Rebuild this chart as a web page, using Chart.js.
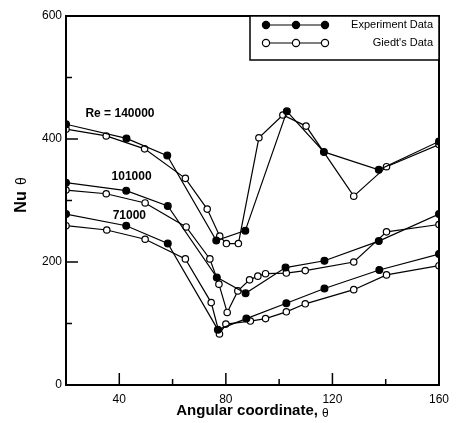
<!DOCTYPE html>
<html>
<head>
<meta charset="utf-8">
<script src="https://cdn.jsdelivr.net/npm/chart.js@4.4.1/dist/chart.umd.min.js"></script>
<style>
  html, body { margin: 0; padding: 0; background: #fff; }
  #wrap { width: 459px; height: 423px; }
</style>
</head>
<body>
<div id="wrap"><canvas id="nu"></canvas></div>
<script>
// Re = 140000
var exp140X = [20, 42.7, 58, 76.4, 87.3, 102.9, 116.8, 137.4, 160]
var exp140Y = [424, 401, 373, 235, 251, 445, 379, 350, 396]
var giedt140X = [20, 35.1, 49.5, 64.8, 73, 77.7, 80.2, 84.7, 92.4, 101.4, 110.1, 128, 140.3, 160]
var giedt140Y = [416, 405, 384, 336, 286, 242, 230, 230, 402, 439, 421, 307, 355, 391]
// Re = 101000
var exp101X = [20, 42.6, 58.2, 76.6, 87.4, 102.4, 117, 137.4, 160]
var exp101Y = [329, 316, 291, 175, 149, 191, 202, 234, 278]
var giedt101X = [20, 35.1, 49.7, 65.1, 74, 77.4, 80.5, 84.5, 88.9, 92, 94.9, 102.7, 109.8, 128, 140.3, 160]
var giedt101Y = [317, 311, 296, 257, 205, 164, 118, 153, 171, 177, 181, 182, 186, 200, 249, 261]
// Re = 71000
var exp71X = [20, 42.6, 58.2, 77, 87.7, 102.7, 117, 137.6, 160]
var exp71Y = [278, 259, 230, 90, 108, 133, 157, 187, 213]
var giedt71X = [20, 35.3, 49.7, 64.8, 74.5, 77.6, 80, 89.2, 94.9, 102.7, 109.8, 128, 140.3, 160]
var giedt71Y = [259, 252, 237, 205, 134, 83, 99, 104, 108, 119, 132, 155, 179, 194]

var xTicks = [40, 60, 80, 100, 120, 140, 160]
var xLabels = [40, 80, 120, 160]
var yTicks = [0, 100, 200, 300, 400, 500, 600]
var yLabels = [0, 200, 400, 600]
var reLabels = [
  {text: "Re = 140000", x: 27.3, y: 441},
  {text: "101000", x: 37.1, y: 339},
  {text: "71000", x: 37.5, y: 276}
]

var FONT = "'Liberation Sans', Arial, sans-serif"

function pts(xs, ys){
  let out = []
  for(let i = 0; i < xs.length; i++){
    out.push({x: xs[i], y: ys[i]})
  }
  return out
}

function serie(xs, ys, filled){
  return {
    data: pts(xs, ys),
    showLine: true,
    borderColor: '#000',
    borderWidth: 1.2,
    pointRadius: filled ? 3.4 : 3.2,
    pointBorderWidth: 1.2,
    pointBorderColor: '#000',
    pointBackgroundColor: filled ? '#000' : '#fff',
    tension: 0
  }
}

const decor = {
  id: 'decor',
  afterDraw(chart){
    const ctx = chart.ctx
    const a = chart.chartArea
    const xs = chart.scales.x
    const ys = chart.scales.y
    ctx.save()
    ctx.strokeStyle = '#000'
    ctx.lineWidth = 1.5
    // inward tick marks
    for(let v of xTicks){
      const px = xs.getPixelForValue(v)
      const len = xLabels.includes(v) ? 12 : 6
      ctx.beginPath(); ctx.moveTo(px, a.bottom); ctx.lineTo(px, a.bottom - len); ctx.stroke()
    }
    for(let v of yTicks){
      const py = ys.getPixelForValue(v)
      const len = yLabels.includes(v) ? 12 : 6
      ctx.beginPath(); ctx.moveTo(a.left, py); ctx.lineTo(a.left + len, py); ctx.stroke()
    }
    // frame
    ctx.lineWidth = 2
    ctx.strokeRect(a.left, a.top, a.right - a.left, a.bottom - a.top)

    // Re labels
    ctx.fillStyle = '#000'
    ctx.font = "bold 12px " + FONT
    ctx.textBaseline = 'middle'
    ctx.textAlign = 'left'
    for(let r of reLabels){
      ctx.fillText(r.text, xs.getPixelForValue(r.x), ys.getPixelForValue(r.y))
    }

    // legend
    const lx = 250, ly = a.top
    ctx.lineWidth = 1.5
    ctx.fillStyle = '#fff'
    ctx.fillRect(lx, ly, a.right - lx, 44)
    ctx.strokeRect(lx, ly, a.right - lx, 44)
    const rows = [{y: ly + 9, filled: true, text: "Experiment Data"},
                  {y: ly + 27, filled: false, text: "Giedt's Data"}]
    const mx = [266, 296, 325]
    for(let r of rows){
      ctx.lineWidth = 1.2
      ctx.beginPath(); ctx.moveTo(mx[0], r.y); ctx.lineTo(mx[2], r.y); ctx.stroke()
      for(let m of mx){
        ctx.beginPath(); ctx.arc(m, r.y, 3.6, 0, Math.PI * 2)
        ctx.fillStyle = r.filled ? '#000' : '#fff'
        ctx.fill(); ctx.stroke()
      }
      ctx.fillStyle = '#000'
      ctx.font = "11px " + FONT
      ctx.textAlign = 'right'
      ctx.fillText(r.text, 433, r.y)
    }

    // axis titles
    const tx = (a.left + a.right) / 2
    const t1 = "Angular coordinate, "
    ctx.font = "bold 15px " + FONT
    const w1 = ctx.measureText(t1).width
    ctx.font = "12px " + FONT
    const w2 = ctx.measureText("θ").width
    let sx = tx - (w1 + w2) / 2
    ctx.textAlign = 'left'
    ctx.font = "bold 15px " + FONT
    ctx.fillText(t1, sx, 411)
    ctx.font = "12px " + FONT
    ctx.fillText("θ", sx + w1, 414)

    ctx.translate(22, 193)
    ctx.rotate(-Math.PI / 2)
    ctx.textAlign = 'center'
    ctx.font = "bold 16px " + FONT
    ctx.fillText("Nu", -9, 0)
    ctx.font = "14px " + FONT
    ctx.fillText("θ", 12, 0)
    ctx.restore()
  }
}

const nuZone = document.getElementById("nu")
const graphe = new Chart(nuZone, {
  type: 'scatter',
  data: {
    datasets: [
      serie(exp140X, exp140Y, true),
      serie(giedt140X, giedt140Y, false),
      serie(exp101X, exp101Y, true),
      serie(giedt101X, giedt101Y, false),
      serie(exp71X, exp71Y, true),
      serie(giedt71X, giedt71Y, false)
    ]
  },
  options: {
    responsive: true,
    maintainAspectRatio: false,
    animation: false,
    layout: { padding: { left: 0, top: 16, right: 20, bottom: 0 } },
    plugins: { legend: { display: false }, tooltip: { enabled: false } },
    scales: {
      x: {
        type: 'linear', min: 20, max: 160,
        afterBuildTicks: s => { s.ticks = xLabels.map(v => ({value: v})) },
        afterFit: s => { s.height = 38 },
        grid: { display: false, drawTicks: false },
        border: { display: false },
        ticks: { color: '#000', padding: 7, maxRotation: 0, font: { family: FONT, size: 12 } }
      },
      y: {
        type: 'linear', min: 0, max: 600,
        afterBuildTicks: s => { s.ticks = yLabels.map(v => ({value: v})) },
        afterFit: s => { s.width = 66 },
        grid: { display: false, drawTicks: false },
        border: { display: false },
        ticks: { color: '#000', padding: 4, font: { family: FONT, size: 12 } }
      }
    }
  },
  plugins: [decor]
})
</script>
</body>
</html>
